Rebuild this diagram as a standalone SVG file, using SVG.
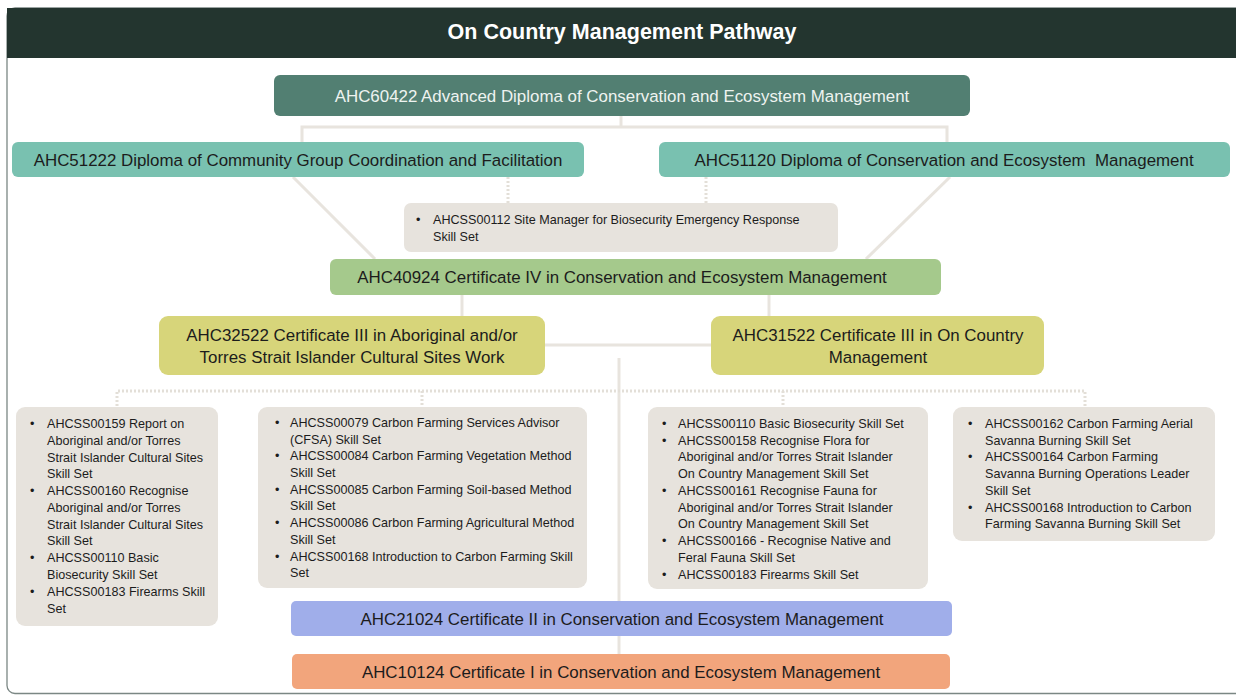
<svg xmlns="http://www.w3.org/2000/svg" width="1236" height="696" viewBox="0 0 1236 696">
<style>
  .t { font-family: "Liberation Sans", Arial, sans-serif; fill: #1c1c1c; }
  .big { font-size: 16.9px; text-anchor: middle; }
  .sm { font-size: 12.6px; }
  .skill { fill: #e7e3dd; }
  .conn { stroke: #e8e4de; stroke-width: 3; fill: none; }
  .dot { stroke: #e3dfd8; stroke-width: 3; stroke-dasharray: 2 2; fill: none; }
</style>
<rect x="0" y="0" width="1236" height="696" fill="#ffffff"/>
<rect x="7" y="8" width="1250" height="685.5" rx="8" fill="none" stroke="#7b8784" stroke-width="1.3"/>
<g id="header">
  <rect x="7" y="8" width="1250" height="50" fill="#23352f"/>
  <text x="622" y="39" class="t" style="font-size:21.5px;font-weight:bold;fill:#ffffff;text-anchor:middle">On Country Management Pathway</text>
</g>
<g id="connectors">
  <polyline class="conn" points="621,116 621,127"/>
  <polyline class="conn" points="302,143 302,127 947,127 947,143"/>
  <line class="conn" x1="293" y1="177" x2="375" y2="259"/>
  <line class="conn" x1="950" y1="177" x2="866" y2="259"/>
  <line class="dot" x1="508" y1="177" x2="508" y2="203"/>
  <line class="dot" x1="706" y1="177" x2="706" y2="203"/>
  <line class="conn" x1="462" y1="295" x2="462" y2="316"/>
  <line class="conn" x1="769" y1="295" x2="769" y2="316"/>
  <line class="conn" x1="545" y1="345" x2="712" y2="345"/>
  <line class="conn" x1="619" y1="358" x2="619" y2="601"/>
  <line class="conn" x1="619" y1="636" x2="619" y2="654"/>
  <polyline class="dot" points="117,406 117,391 1085,391 1085,406"/>
  <line class="dot" x1="422" y1="391" x2="422" y2="406"/>
  <line class="dot" x1="783" y1="391" x2="783" y2="406"/>
</g>
<g id="n-ahc60422">
  <rect x="274" y="75" width="696" height="41" rx="6" fill="#527f72"/>
  <text x="622" y="102" class="t big" style="fill:#eef3f0">AHC60422 Advanced Diploma of Conservation and Ecosystem Management</text>
</g>
<g id="n-ahc51222">
  <rect x="12" y="142" width="572" height="35" rx="6" fill="#79c1b0"/>
  <text x="298" y="166" class="t big">AHC51222 Diploma of Community Group Coordination and Facilitation</text>
</g>
<g id="n-ahc51120">
  <rect x="659" y="142" width="571" height="35" rx="6" fill="#79c1b0"/>
  <text x="944" y="166" class="t big" xml:space="preserve">AHC51120 Diploma of Conservation and Ecosystem  Management</text>
</g>
<g id="n-ahcss00112">
  <rect x="404" y="203" width="434" height="49" rx="7" class="skill"/>
  <text class="t sm"><tspan x="416" y="224">•</tspan><tspan x="433" y="224">AHCSS00112 Site Manager for Biosecurity Emergency Response</tspan><tspan x="433" y="241">Skill Set</tspan></text>
</g>
<g id="n-ahc40924">
  <rect x="330" y="259" width="611" height="36" rx="6" fill="#a5c98c"/>
  <text x="622" y="283" class="t big">AHC40924 Certificate IV in Conservation and Ecosystem Management</text>
</g>
<g id="n-ahc32522">
  <rect x="159" y="316" width="386" height="59" rx="9" fill="#d7d57a"/>
  <text class="t big"><tspan x="352" y="341">AHC32522 Certificate III in Aboriginal and/or</tspan><tspan x="352" y="363">Torres Strait Islander Cultural Sites Work</tspan></text>
</g>
<g id="n-ahc31522">
  <rect x="711" y="316" width="333" height="59" rx="9" fill="#d7d57a"/>
  <text class="t big"><tspan x="878" y="341">AHC31522 Certificate III in On Country</tspan><tspan x="878" y="363">Management</tspan></text>
</g>
<g id="n-skills-1">
  <rect x="16" y="407" width="202" height="219" rx="9" class="skill"/>
  <text class="t sm">
    <tspan x="30" y="428">•</tspan><tspan x="47" y="428">AHCSS00159 Report on</tspan>
    <tspan x="47" y="445">Aboriginal and/or Torres</tspan>
    <tspan x="47" y="462">Strait Islander Cultural Sites</tspan>
    <tspan x="47" y="478">Skill Set</tspan>
    <tspan x="30" y="495">•</tspan><tspan x="47" y="495">AHCSS00160 Recognise</tspan>
    <tspan x="47" y="512">Aboriginal and/or Torres</tspan>
    <tspan x="47" y="529">Strait Islander Cultural Sites</tspan>
    <tspan x="47" y="545">Skill Set</tspan>
    <tspan x="30" y="562">•</tspan><tspan x="47" y="562">AHCSS00110 Basic</tspan>
    <tspan x="47" y="579">Biosecurity Skill Set</tspan>
    <tspan x="30" y="596">•</tspan><tspan x="47" y="596">AHCSS00183 Firearms Skill</tspan>
    <tspan x="47" y="613">Set</tspan>
  </text>
</g>
<g id="n-skills-2">
  <rect x="258" y="407" width="329" height="181" rx="9" class="skill"/>
  <text class="t sm">
    <tspan x="275" y="427">•</tspan><tspan x="290" y="427">AHCSS00079 Carbon Farming Services Advisor</tspan>
    <tspan x="290" y="444">(CFSA) Skill Set</tspan>
    <tspan x="275" y="460">•</tspan><tspan x="290" y="460">AHCSS00084 Carbon Farming Vegetation Method</tspan>
    <tspan x="290" y="477">Skill Set</tspan>
    <tspan x="275" y="494">•</tspan><tspan x="290" y="494">AHCSS00085 Carbon Farming Soil-based Method</tspan>
    <tspan x="290" y="510">Skill Set</tspan>
    <tspan x="275" y="527">•</tspan><tspan x="290" y="527">AHCSS00086 Carbon Farming Agricultural Method</tspan>
    <tspan x="290" y="544">Skill Set</tspan>
    <tspan x="275" y="561">•</tspan><tspan x="290" y="561">AHCSS00168 Introduction to Carbon Farming Skill</tspan>
    <tspan x="290" y="577">Set</tspan>
  </text>
</g>
<g id="n-skills-3">
  <rect x="648" y="407" width="280" height="182" rx="9" class="skill"/>
  <text class="t sm">
    <tspan x="662" y="428">•</tspan><tspan x="678" y="428">AHCSS00110 Basic Biosecurity Skill Set</tspan>
    <tspan x="662" y="445">•</tspan><tspan x="678" y="445">AHCSS00158 Recognise Flora for</tspan>
    <tspan x="678" y="461">Aboriginal and/or Torres Strait Islander</tspan>
    <tspan x="678" y="478">On Country Management Skill Set</tspan>
    <tspan x="662" y="495">•</tspan><tspan x="678" y="495">AHCSS00161 Recognise Fauna for</tspan>
    <tspan x="678" y="512">Aboriginal and/or Torres Strait Islander</tspan>
    <tspan x="678" y="528">On Country Management Skill Set</tspan>
    <tspan x="662" y="545">•</tspan><tspan x="678" y="545">AHCSS00166 - Recognise Native and</tspan>
    <tspan x="678" y="562">Feral Fauna Skill Set</tspan>
    <tspan x="662" y="579">•</tspan><tspan x="678" y="579">AHCSS00183 Firearms Skill Set</tspan>
  </text>
</g>
<g id="n-skills-4">
  <rect x="953" y="407" width="262" height="134" rx="9" class="skill"/>
  <text class="t sm">
    <tspan x="968" y="428">•</tspan><tspan x="985" y="428">AHCSS00162 Carbon Farming Aerial</tspan>
    <tspan x="985" y="445">Savanna Burning Skill Set</tspan>
    <tspan x="968" y="461">•</tspan><tspan x="985" y="461">AHCSS00164 Carbon Farming</tspan>
    <tspan x="985" y="478">Savanna Burning Operations Leader</tspan>
    <tspan x="985" y="495">Skill Set</tspan>
    <tspan x="968" y="512">•</tspan><tspan x="985" y="512">AHCSS00168 Introduction to Carbon</tspan>
    <tspan x="985" y="528">Farming Savanna Burning Skill Set</tspan>
  </text>
</g>
<g id="n-ahc21024">
  <rect x="291" y="601" width="661" height="35" rx="5" fill="#a0aeea"/>
  <text x="622" y="625" class="t big">AHC21024 Certificate II in Conservation and Ecosystem Management</text>
</g>
<g id="n-ahc10124">
  <rect x="292" y="654" width="658" height="35" rx="5" fill="#f2a57c"/>
  <text x="621" y="678" class="t big">AHC10124 Certificate I in Conservation and Ecosystem Management</text>
</g>
</svg>
